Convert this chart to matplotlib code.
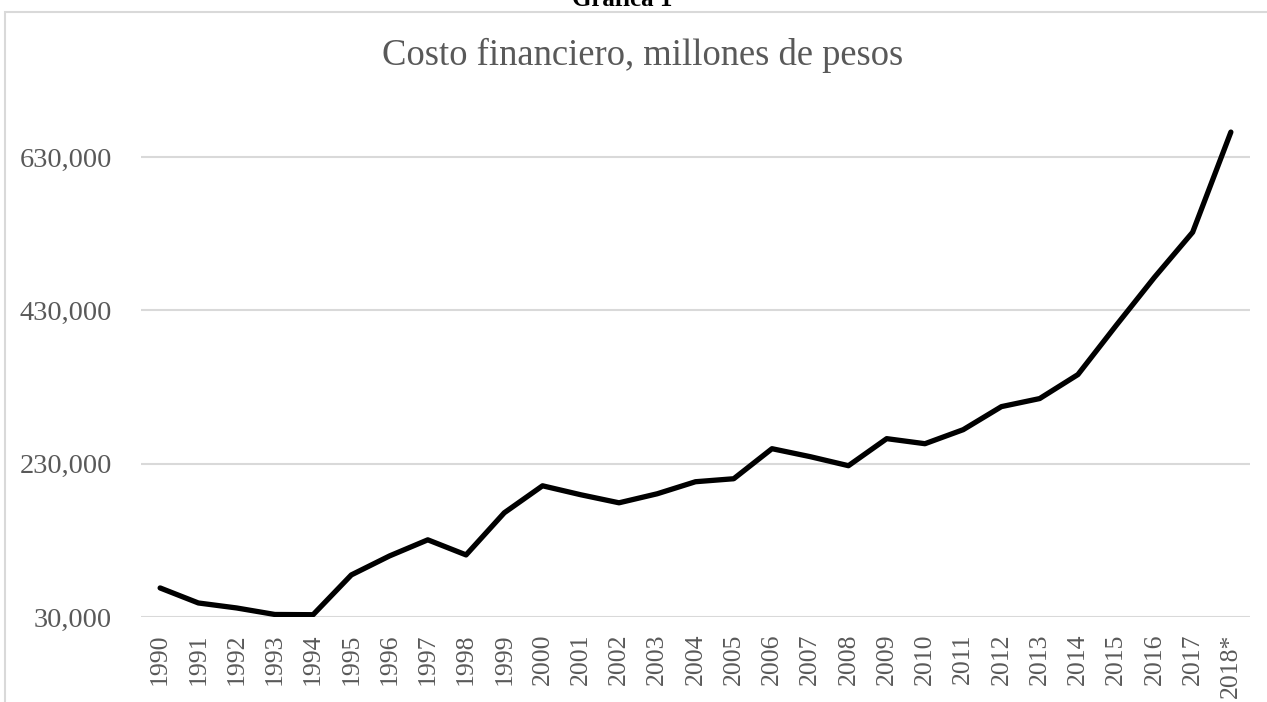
"""Costo financiero (millones de pesos), 1990-2018."""

import matplotlib
matplotlib.use('Agg')
import matplotlib.pyplot as plt
from matplotlib.patches import Rectangle
from matplotlib.ticker import FuncFormatter

YEARS = [str(y) for y in range(1990, 2018)] + ['2018*']
COSTO = [
    67900, 48300, 41800, 33300, 33000, 84900, 109700, 130700, 111000, 166000,
    201200, 189500, 179000, 190800, 206500, 210400, 249600, 239200, 227400,
    262700, 256100, 274400, 304500, 315000, 346300, 410400, 473100, 532000,
    662700,
]
Y_TICKS = [30000, 230000, 430000, 630000]

FONT = ['Liberation Serif', 'DejaVu Serif']
GRAY = '#595959'
GRID = '#d9d9d9'

W, H, DPI = 1267, 702, 100


def main() -> None:
    fig = plt.figure(figsize=(W / DPI, H / DPI), dpi=DPI)
    plt.rcParams['font.family'] = FONT

    # chart frame, running off the right and bottom edges
    fig.patches.append(Rectangle(
        (5 / W, -0.1), 1.2, 1.1 - 12 / H, transform=fig.transFigure,
        fill=False, edgecolor=GRID, lw=1.5, clip_on=False,
    ))
    fig.text(622 / W, 1 - 6 / H, 'Gráfica 1', ha='center', va='baseline',
             fontsize=18, fontweight='bold', color='black')
    fig.text(643 / W, 1 - 55 / H, 'Costo financiero, millones de pesos',
             ha='center', va='center', fontsize=26.4, color=GRAY)

    left, right = 141 / W, 1250 / W
    bottom, top = 1 - 617 / H, 1 - 80.5 / H
    ax = fig.add_axes([left, bottom, right - left, top - bottom])

    x = list(range(len(YEARS)))
    ax.plot(x, COSTO, color='black', lw=3.8, solid_capstyle='round',
            solid_joinstyle='round', zorder=3)

    ax.set_xlim(-0.5, len(YEARS) - 0.5)
    ax.set_ylim(30000, 730000)
    ax.set_yticks(Y_TICKS)
    ax.yaxis.set_major_formatter(FuncFormatter(lambda v, _: f'{v:,.0f}'))
    ax.set_xticks(x)
    ax.set_xticklabels(YEARS, rotation=90)

    ax.grid(axis='y', color=GRID, lw=1.5)
    ax.set_axisbelow(True)
    for side in ('top', 'right', 'left', 'bottom'):
        ax.spines[side].set_visible(False)
    ax.tick_params(axis='both', length=0, colors=GRAY)
    ax.tick_params(axis='y', pad=21, labelsize=20.5)
    ax.tick_params(axis='x', pad=12, labelsize=18.5)

    fig.savefig('out.png', dpi=DPI)
    plt.close(fig)


if __name__ == '__main__':
    main()
